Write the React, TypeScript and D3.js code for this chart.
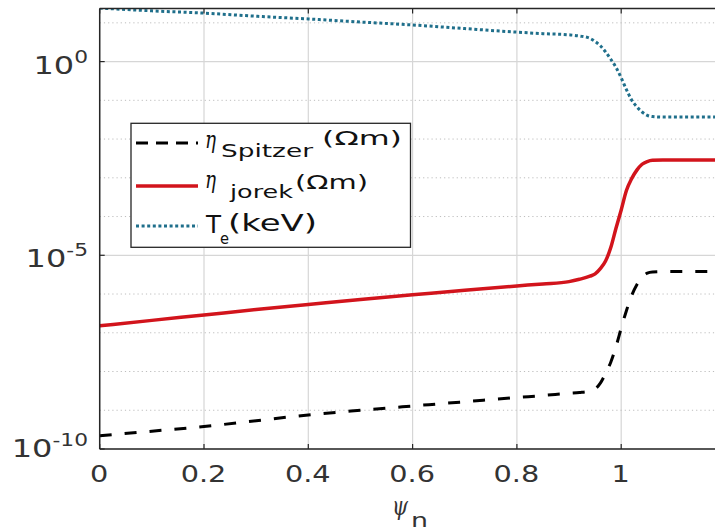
import React from "react";
import * as d3 from "d3";

const psi = [0, 0.1, 0.2, 0.3, 0.4, 0.5, 0.6, 0.7, 0.8, 0.85, 0.9, 0.92, 0.94, 0.95, 0.96, 0.97, 0.98, 0.99, 1.0, 1.01, 1.02, 1.03, 1.04, 1.05, 1.06, 1.08, 1.1, 1.15, 1.2];
const etaSpitzer = [2.19e-10, 2.88e-10, 3.8e-10, 5.37e-10, 7.59e-10, 1.0e-9, 1.29e-9, 1.66e-9, 2.14e-9, 2.4e-9, 2.75e-9, 2.88e-9, 3.16e-9, 3.55e-9, 5.01e-9, 8.91e-9, 1.74e-8, 4.37e-8, 1.32e-7, 3.72e-7, 9.12e-7, 1.74e-6, 2.69e-6, 3.47e-6, 3.72e-6, 3.8e-6, 3.8e-6, 3.8e-6, 3.8e-6];
const etaJorek = [1.51e-7, 2.09e-7, 2.88e-7, 3.98e-7, 5.37e-7, 7.24e-7, 9.55e-7, 1.26e-6, 1.62e-6, 1.82e-6, 2.09e-6, 2.4e-6, 2.88e-6, 3.31e-6, 4.5e-6, 7.1e-6, 1.58e-5, 5.0e-5, 1.48e-4, 4.7e-4, 9.5e-4, 1.58e-3, 2.24e-3, 2.63e-3, 2.82e-3, 2.88e-3, 2.88e-3, 2.88e-3, 2.88e-3];
const Te = [24, 20.4, 17.8, 14.8, 12.6, 10.5, 8.8, 7.1, 5.75, 5.25, 4.9, 4.57, 3.98, 3.3, 2.57, 1.78, 1.15, 0.71, 0.38, 0.19, 0.102, 0.068, 0.05, 0.041, 0.038, 0.037, 0.037, 0.037, 0.037];

const xTicks = [0, 0.2, 0.4, 0.6, 0.8, 1];
const xTickLabels = ["0", "0.2", "0.4", "0.6", "0.8", "1"];
const yMajor = [1, 1e-5, 1e-10];
const yMajorExp = ["0", "-5", "-10"];
const yMinor = [10, 1e-1, 1e-2, 1e-3, 1e-4, 1e-6, 1e-7, 1e-8, 1e-9];

const W = 715;
const H = 532;
const L = 99.7;
const T = 8.5;
const B = 449;
const xs = d3.scaleLinear().domain([0, 1.2]).range([L, L + 1.2 * 521.5]);
const ys = d3.scaleLog().domain([1e-10, Math.pow(10, 1.37)]).range([B, T]);

const line = (vals: number[]) =>
  d3
    .line<number>()
    .x((_, i) => xs(psi[i]))
    .y((v) => ys(v))
    .curve(d3.curveMonotoneX)(vals) || "";

const FONT = "DejaVu Sans, sans-serif";
const SERIF = "DejaVu Serif, Liberation Serif, serif";
const SX = 1.25;
const TXT = "#333";

export default function App() {
  const right = W + 20;
  return (
    <svg
      width={W}
      height={H}
      style={{ position: "absolute", left: 0, top: 0, background: "#fff" }}
    >
      <defs>
        <clipPath id="plotclip">
          <rect x={L} y={T} width={right - L} height={B - T} />
        </clipPath>
      </defs>
      <rect x={0} y={0} width={W} height={H} fill="#fff" />
      {/* grid */}
      {xTicks.map((t) => (
        <line key={"gx" + t} x1={xs(t)} x2={xs(t)} y1={T} y2={B} stroke="#d6d6d6" strokeWidth={1.2} />
      ))}
      {yMajor.map((t) => (
        <line key={"gy" + t} x1={L} x2={right} y1={ys(t)} y2={ys(t)} stroke="#d6d6d6" strokeWidth={1.2} />
      ))}
      {yMinor.map((t) => (
        <line key={"gm" + t} x1={L} x2={right} y1={ys(t)} y2={ys(t)} stroke="#bdbdbd" strokeWidth={1} strokeDasharray="1.2,3" />
      ))}
      {/* data */}
      <g clipPath="url(#plotclip)" fill="none">
        <path d={line(Te)} stroke="#1f6f8b" strokeWidth={3} strokeDasharray="3,2.6" />
        <path d={line(etaJorek)} stroke="#d2141c" strokeWidth={3.5} />
        <path d={line(etaSpitzer)} stroke="#000" strokeWidth={3} strokeDasharray="12,13" />
      </g>
      {/* axes */}
      <line x1={L} x2={L} y1={T} y2={B} stroke="#262626" strokeWidth={1.5} />
      <line x1={L} x2={right} y1={B} y2={B} stroke="#262626" strokeWidth={1.5} />
      <line x1={L} x2={right} y1={T} y2={T} stroke="#262626" strokeWidth={1.5} />
      {xTicks.map((t) => (
        <g key={"tx" + t}>
          <line x1={xs(t)} x2={xs(t)} y1={B} y2={B - 5} stroke="#262626" strokeWidth={1.2} />
          <line x1={xs(t)} x2={xs(t)} y1={T} y2={T + 5} stroke="#262626" strokeWidth={1.2} />
        </g>
      ))}
      {yMajor.map((t) => (
        <line key={"ty" + t} x1={L} x2={L + 5} y1={ys(t)} y2={ys(t)} stroke="#262626" strokeWidth={1.2} />
      ))}
      {/* x tick labels */}
      {xTicks.map((t, i) => (
        <text
          key={"lx" + t}
          transform={`translate(${xs(t) - 0.5},${B + 33}) scale(${SX},1)`}
          textAnchor="middle"
          fontFamily={FONT}
          fontSize={23}
          fill={TXT}
        >
          {xTickLabels[i]}
        </text>
      ))}
      {/* y tick labels */}
      {yMajor.map((t, i) => (
        <text
          key={"ly" + t}
          transform={`translate(88,${ys(t) + (i === 2 ? 8 : 12)}) scale(1.28,1)`}
          textAnchor="end"
          fontFamily={FONT}
          fontSize={25}
          fill={TXT}
        >
          <tspan>10</tspan>
          <tspan dy={-11} fontSize={17}>{yMajorExp[i]}</tspan>
        </text>
      ))}
      {/* x label */}
      <text x={392} y={515} fontFamily={SERIF} fontStyle="italic" fontSize={26} fill={TXT} textLength={16} lengthAdjust="spacingAndGlyphs">
        ψ
      </text>
      <text x={411} y={527} fontFamily={FONT} fontSize={20} fill={TXT} textLength={17} lengthAdjust="spacingAndGlyphs">
        n
      </text>
      {/* legend */}
      <rect x={131} y={123.3} width={279.5} height={124} fill="#fff" stroke="#262626" strokeWidth={1.3} />
      <line x1={136} x2={198} y1={143} y2={143} stroke="#000" strokeWidth={3} strokeDasharray="12,8" />
      <line x1={136} x2={198} y1={186} y2={186} stroke="#d2141c" strokeWidth={3.5} />
      <line x1={136} x2={198} y1={226} y2={226} stroke="#1f6f8b" strokeWidth={3} strokeDasharray="3,2.6" />
      <g fill="#111">
        <text x={205} y={148} fontFamily={SERIF} fontStyle="italic" fontSize={25} textLength={11} lengthAdjust="spacingAndGlyphs">η</text>
        <text x={221} y={157} fontFamily={FONT} fontSize={17} textLength={92} lengthAdjust="spacingAndGlyphs">Spitzer</text>
        <text x={322} y={145} fontFamily={FONT} fontSize={20} textLength={80} lengthAdjust="spacingAndGlyphs">(Ωm)</text>

        <text x={205} y={188} fontFamily={SERIF} fontStyle="italic" fontSize={25} textLength={11} lengthAdjust="spacingAndGlyphs">η</text>
        <text x={230} y={197.5} fontFamily={FONT} fontSize={17} textLength={63} lengthAdjust="spacingAndGlyphs">jorek</text>
        <text x={295} y={189} fontFamily={FONT} fontSize={20} textLength={73} lengthAdjust="spacingAndGlyphs">(Ωm)</text>

        <text x={206} y={233} fontFamily={FONT} fontSize={24} textLength={15} lengthAdjust="spacingAndGlyphs">T</text>
        <text x={220} y={244} fontFamily={FONT} fontSize={16} textLength={9} lengthAdjust="spacingAndGlyphs">e</text>
        <text x={228} y={231} fontFamily={FONT} fontSize={23} textLength={89} lengthAdjust="spacingAndGlyphs">(keV)</text>
      </g>
    </svg>
  );
}
